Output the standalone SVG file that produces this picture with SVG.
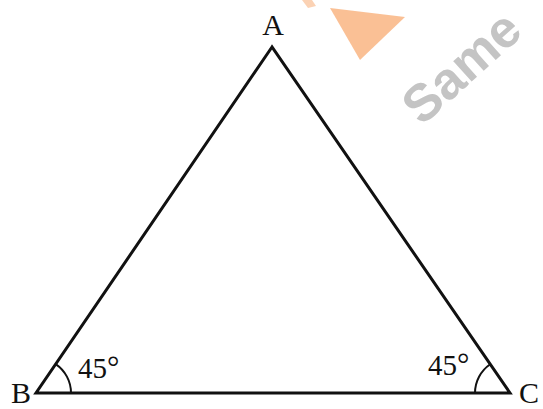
<svg xmlns="http://www.w3.org/2000/svg" width="543" height="409" viewBox="0 0 543 409">
<style>
.edge{fill:none;stroke:#111;stroke-width:3;stroke-linejoin:miter;stroke-linecap:butt}
.arc{fill:none;stroke:#111;stroke-width:2}
.lbl{font-family:"Liberation Serif","Times New Roman",serif;font-size:30px;fill:#111}
.ang{font-family:"Liberation Serif","Times New Roman",serif;font-size:29px;fill:#111}
</style>
<rect width="543" height="409" fill="#fff"/>
<g id="watermark">
<polygon points="330,8 405,17 360,60" fill="#f9b98a" opacity="0.9"/>
<polygon points="302,0 312,0 316,6 308,8" fill="#fbd2b4"/>
<text x="0" y="0" transform="translate(464,70) rotate(-42)" text-anchor="middle" dominant-baseline="middle" font-family="Liberation Sans, Arial, sans-serif" font-weight="bold" font-size="52" fill="#c4c4c4">Same</text>
</g>
<g id="connectors">
<polygon class="edge" points="272,47 36,393 510,393"/>
<path class="arc" d="M71,393 A35,35 0 0 0 55.7,364.1"/>
<path class="arc" d="M475,393 A35,35 0 0 1 490.2,364.2"/>
</g>
<g id="A"><text class="lbl" x="273" y="35" text-anchor="middle">A</text></g>
<g id="B"><text class="lbl" x="21" y="403" text-anchor="middle">B</text></g>
<g id="C"><text class="lbl" x="529" y="403" text-anchor="middle">C</text></g>
<g id="angleB"><text class="ang" x="78" y="378">45<tspan font-size="31">°</tspan></text></g>
<g id="angleC"><text class="ang" x="428" y="375">45<tspan font-size="31">°</tspan></text></g>
</svg>
